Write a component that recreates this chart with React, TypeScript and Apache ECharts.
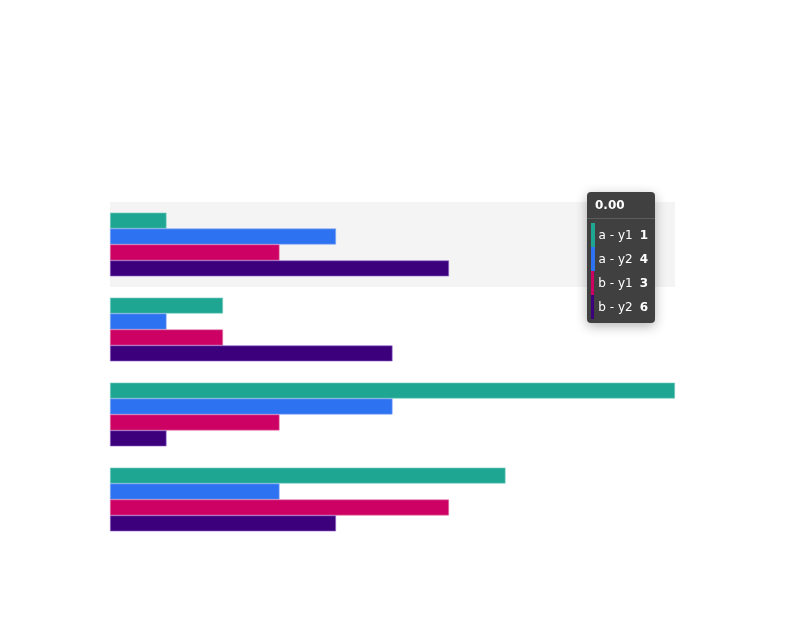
import React, { useEffect, useRef } from "react";
import * as echarts from "echarts";

const categories = ["0.00", "1.00", "2.00", "3.00"];
const seriesNames = ["a - y1", "a - y2", "b - y1", "b - y2"];
const aY1 = [1, 2, 10, 7];
const aY2 = [4, 1, 5, 3];
const bY1 = [3, 2, 3, 6];
const bY2 = [6, 5, 1, 4];
const colors = ["#1fa692", "#2d72f0", "#cd0064", "#3c007d"];
const borders = ["#7fd0c3", "#86a9f5", "#e07aa8", "#9a6bcf"];

export default function App() {
  const ref = useRef<HTMLDivElement>(null);
  useEffect(() => {
    document.body.style.margin = "0";
    const chart = echarts.init(ref.current!, undefined, { renderer: "svg" });
    const values = [aY1, aY2, bY1, bY2];
    chart.setOption({
      animation: false,
      grid: { left: 110, right: 110, top: 202, bottom: 90 },
      xAxis: { type: "value", min: 0, max: 10, show: false },
      yAxis: { type: "category", data: categories, inverse: true, show: false },
      tooltip: {
        trigger: "axis",
        triggerOn: "none",
        alwaysShowContent: true,
        axisPointer: { type: "shadow", z: 0, shadowStyle: { color: "rgba(150,150,150,0.1)" } },
        backgroundColor: "#404040",
        borderWidth: 0,
        borderRadius: 4,
        padding: 0,
        extraCssText: "box-shadow: 0 3px 12px rgba(0,0,0,0.3);",
        position: [587, 192],
        formatter: (params: any) => {
          const list = Array.isArray(params) ? params : [params];
          const head = `<div style="padding:6px 8px 5px 8px;font-weight:bold;border-bottom:1px solid #5c5c5c;line-height:15px;">${list[0].axisValueLabel}</div>`;
          const rows = list
            .map(
              (p: any) =>
                `<div style="display:flex;align-items:center;height:24px;"><span style="display:inline-block;width:4px;height:24px;background:${p.color};margin-right:4px;"></span><span>${p.seriesName}</span><span style="font-weight:bold;margin-left:7px;">${p.value}</span></div>`
            )
            .join("");
          return `<div style="font-family:'DejaVu Sans',sans-serif;font-size:12px;color:#fff;width:68px;">${head}<div style="padding:4px 7px 4px 4px;">${rows}</div></div>`;
        },
      },
      series: seriesNames.map((name, i) => ({
        name,
        type: "bar",
        z: 5,
        data: values[i],
        barGap: 0,
        barCategoryGap: "25%",
        emphasis: { disabled: true },
        itemStyle: { color: colors[i], borderColor: borders[i], borderWidth: 0.6 },
      })),
    });
    chart.dispatchAction({ type: "showTip", seriesIndex: 0, dataIndex: 0 });
    return () => chart.dispose();
  }, []);
  return <div ref={ref} style={{ width: 785, height: 632 }} />;
}
